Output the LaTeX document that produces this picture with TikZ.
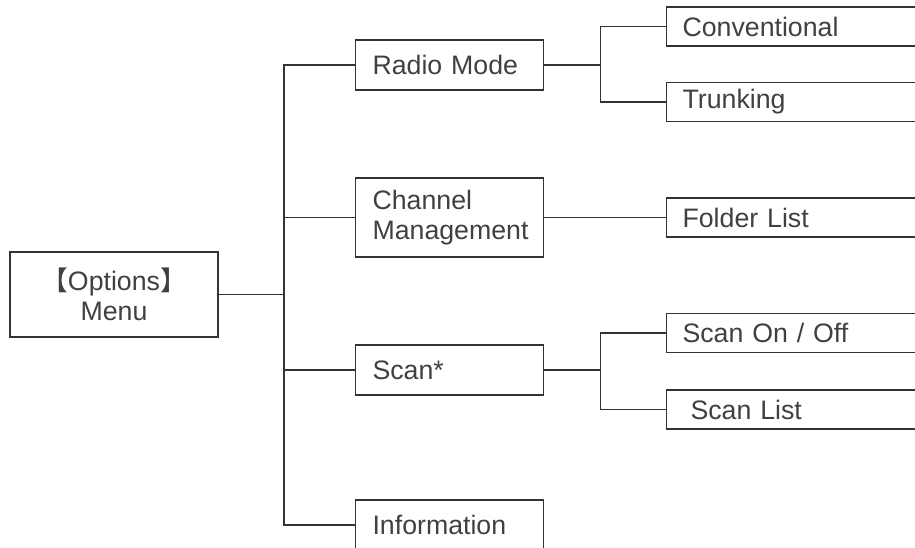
\documentclass[tikz,border=0pt]{standalone}
\usepackage{fontspec}
\setmainfont{Liberation Sans}
\newfontfamily\cjk{Noto Sans CJK SC}
\usepackage{xcolor}
\definecolor{LineGrey}{HTML}{333333}
\definecolor{TextGrey}{HTML}{404040}

\begin{document}
\begin{tikzpicture}[every node/.style={font=\fontsize{19}{21.5}\selectfont, text=TextGrey},
  menubox/.style={draw=LineGrey, line width=0.8pt, rectangle, anchor=west, minimum width=4.7cm, minimum height=1.25cm, inner xsep=0.425cm, inner ysep=0pt, text width=3.85cm, align=left},
  leafbox/.style={draw=LineGrey, line width=0.8pt, rectangle, anchor=west, minimum width=6.725cm, minimum height=0.975cm, inner xsep=0.4cm, inner ysep=0pt, text width=5.925cm, align=left},
  link/.style={draw=LineGrey, line width=0.8pt}]
\useasboundingbox (0,0) rectangle (22.875,-13.675);
\clip (0,0) rectangle (22.875,-13.675);
% root
\node[draw=LineGrey, line width=0.8pt, minimum width=5.2cm, minimum height=2.125cm, inner sep=0pt, align=center] (menu) at (2.85,-7.3625) {{\cjk 【}Options{\cjk 】}\\Menu};
% first level
\node[menubox] (radio) at (8.875,-1.625) {Radio Mode};
\node[menubox, minimum height=1.975cm] (chan) at (8.875,-5.4375) {Channel\\Management};
\node[menubox] (scan) at (8.875,-9.25) {Scan*};
\node[menubox] (info) at (8.875,-13.125) {Information};
% second level
\node[leafbox] (conv) at (16.65,-0.6625) {Conventional};
\node[leafbox] (trunk) at (16.65,-2.55) {Trunking};
\node[leafbox] (folder) at (16.65,-5.4375) {Folder List};
\node[leafbox] (onoff) at (16.65,-8.325) {Scan On / Off};
\node[leafbox] (scanlist) at (16.65,-10.2375) {\hspace*{0.2cm}Scan List};
% connectors
\coordinate (root) at (7.1,-7.3625);
\draw[link] (menu.east) -- (root);
\draw[link] (radio.west) -| (root) |- (info.west);
\draw[link] (chan.west) -- (chan.west -| root);
\draw[link] (scan.west) -- (scan.west -| root);
\draw[link] (radio.east) -- ++(1.4,0) coordinate (radiofork);
\draw[link] (conv.west) -| (radiofork) |- (trunk.west);
\draw[link] (chan.east) -- (folder.west);
\draw[link] (scan.east) -- ++(1.4,0) coordinate (scanfork);
\draw[link] (onoff.west) -| (scanfork) |- (scanlist.west);
\end{tikzpicture}
\end{document}
